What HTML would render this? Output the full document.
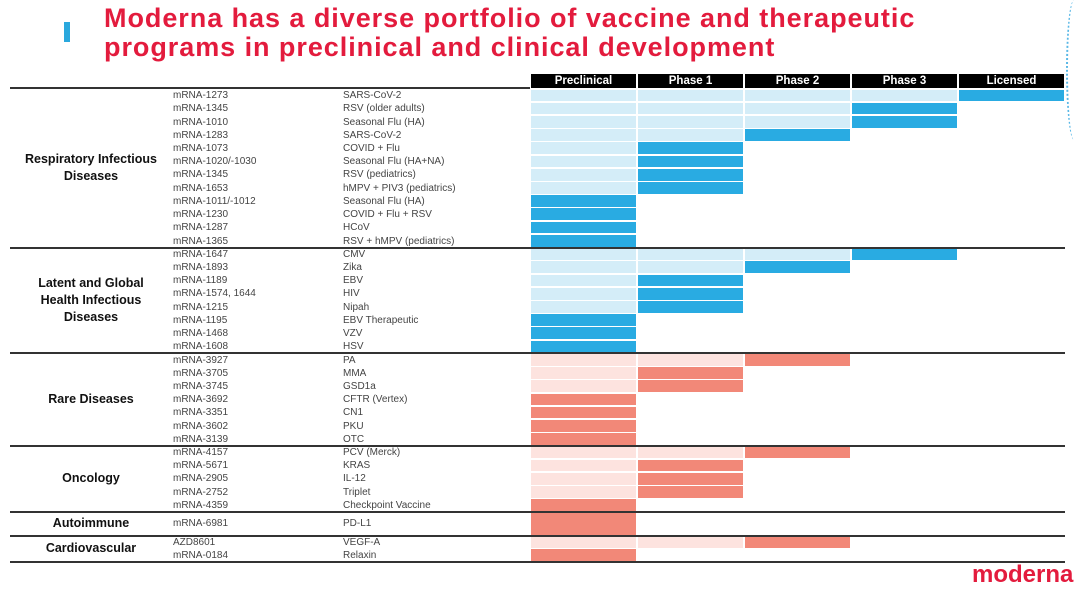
<!DOCTYPE html>
<html><head><meta charset="utf-8"><style>
body{margin:0;width:1080px;height:571px;overflow:hidden;background:#fff;font-family:"Liberation Sans",sans-serif;position:relative}
.a{position:absolute}
.t{position:absolute;font-size:10px;color:#444;white-space:nowrap;line-height:13px}
.cat{position:absolute;font-weight:bold;font-size:12.5px;color:#111;text-align:center;width:150px;line-height:17px}
.hd{position:absolute;top:74px;height:14px;background:#000;color:#fff;font-weight:bold;font-size:11.5px;text-align:center;line-height:14px}
.sep{position:absolute;left:10px;width:1055px;height:2px;background:#333}
</style></head><body>
<div class="a" style="left:64px;top:22px;width:6px;height:20px;background:#2aa8dd"></div>
<div class="a" style="left:104px;top:4px;font-size:27px;letter-spacing:0.95px;font-weight:bold;color:#e31b3d;line-height:29px;white-space:nowrap">Moderna has a diverse portfolio of vaccine and therapeutic<br>programs in preclinical and clinical development</div>
<div class="a" style="left:1066px;top:0;width:14px;height:140px;border-left:2px dotted #5ab8e6;border-radius:50%"></div>
<div class="a" style="left:972px;top:561px;font-size:24px;font-weight:bold;color:#e31b3d">moderna</div>
<div id="chart"></div>
<script>
const categories=["Respiratory Infectious Diseases","Latent and Global Health Infectious Diseases","Rare Diseases","Oncology","Autoimmune","Cardiovascular"];
const catLabels=[["Respiratory Infectious","Diseases"],["Latent and Global","Health Infectious","Diseases"],["Rare Diseases"],["Oncology"],["Autoimmune"],["Cardiovascular"]];
const stages=["Preclinical","Phase 1","Phase 2","Phase 3","Licensed"];
const programs=["mRNA-1273","mRNA-1345","mRNA-1010","mRNA-1283","mRNA-1073","mRNA-1020/-1030","mRNA-1345","mRNA-1653","mRNA-1011/-1012","mRNA-1230","mRNA-1287","mRNA-1365",
"mRNA-1647","mRNA-1893","mRNA-1189","mRNA-1574,  1644","mRNA-1215","mRNA-1195","mRNA-1468","mRNA-1608",
"mRNA-3927","mRNA-3705","mRNA-3745","mRNA-3692","mRNA-3351","mRNA-3602","mRNA-3139",
"mRNA-4157","mRNA-5671","mRNA-2905","mRNA-2752","mRNA-4359","mRNA-6981","AZD8601","mRNA-0184"];
const indications=["SARS-CoV-2","RSV (older adults)","Seasonal Flu (HA)","SARS-CoV-2","COVID + Flu","Seasonal Flu (HA+NA)","RSV (pediatrics)","hMPV + PIV3 (pediatrics)","Seasonal Flu (HA)","COVID + Flu + RSV","HCoV","RSV + hMPV (pediatrics)",
"CMV","Zika","EBV","HIV","Nipah","EBV Therapeutic","VZV","HSV",
"PA","MMA","GSD1a","CFTR (Vertex)","CN1","PKU","OTC",
"PCV (Merck)","KRAS","IL-12","Triplet","Checkpoint Vaccine","PD-L1","VEGF-A","Relaxin"];
const stageIdx=[4,3,3,2,1,1,1,1,0,0,0,0, 3,2,1,1,1,0,0,0, 2,1,1,0,0,0,0, 2,1,1,1,0, 0, 2,0];
const catIdx=[0,0,0,0,0,0,0,0,0,0,0,0, 1,1,1,1,1,1,1,1, 2,2,2,2,2,2,2, 3,3,3,3,3, 4, 5,5];
const rowSpan=[1,1,1,1,1,1,1,1,1,1,1,1,1,1,1,1,1,1,1,1,1,1,1,1,1,1,1,1,1,1,1,1,1.78,1,1];

const C=document.getElementById('chart');
const RH=13.22,TOP=89,X0=531,CW=107;
const colX=i=>X0+i*CW;
function mk(cls,parent){const d=document.createElement('div');d.className=cls;(parent||C).appendChild(d);return d;}
stages.forEach((s,i)=>{const h=mk('hd');


h.style.left=colX(i)+'px';h.style.width=(CW-2)+'px';h.textContent=s;});
let y=TOP;const catStart={},catEnd={};
programs.forEach((p,r)=>{
 const h=RH*rowSpan[r];const c=catIdx[r];
 if(catStart[c]===undefined)catStart[c]=y;catEnd[c]=y+h;
 const blue=c<2;
 const t1=mk('t');
 
 
 t1.style.left='173px';t1.style.top=(y+(h-13)/2)+'px';t1.textContent=p;
 const t2=mk('t');
 
 
 t2.style.left='343px';t2.style.top=(y+(h-13)/2)+'px';t2.textContent=indications[r];
 for(let s=0;s<=stageIdx[r];s++){const b=mk('a');
  
  
  b.style.left=colX(s)+'px';b.style.width=(CW-2)+'px';b.style.top=(y+0.5)+'px';b.style.height=(h-1.5)+'px';
  const cur=s===stageIdx[r];
  b.style.background=blue?(cur?'#29abe2':'#d4edf8'):(cur?'#f28878':'#fde3df');}
 y+=h;});
categories.forEach((c,i)=>{const d=mk('cat');
 
 
 const lines=catLabels[i];const mid=(catStart[i]+catEnd[i])/2;
 d.style.left='16px';d.style.top=(mid-lines.length*17/2)+'px';d.innerHTML=lines.join('<br>');
 const s=mk('sep');
 
 
 s.style.top=(catEnd[i]-1)+'px';});
const topRule=mk('sep');


topRule.style.top=(TOP-2)+'px';topRule.style.width='520px';
</script>
</body></html>
